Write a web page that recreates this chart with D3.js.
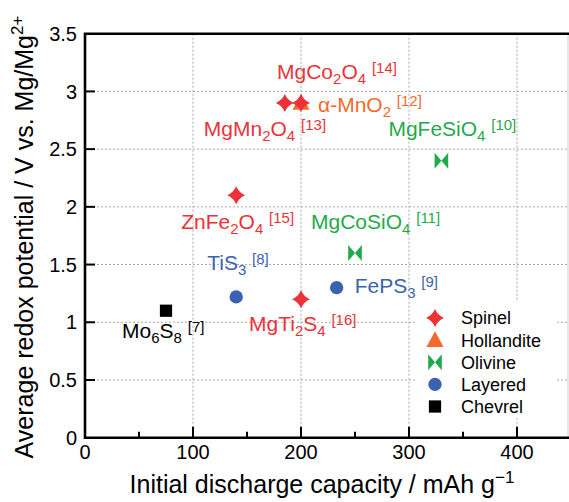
<!DOCTYPE html>
<html><head><meta charset="utf-8">
<script src="https://cdn.jsdelivr.net/npm/d3@7"></script>
<style>body{margin:0;background:#fff}svg{display:block;font-family:"Liberation Sans",Arial,sans-serif}</style>
</head><body><svg id="c" width="569" height="502"></svg>
<script>
// ---- data ----
const materials = ["MgMn2O4","MgCo2O4","α-MnO2","MgFeSiO4","ZnFe2O4","MgCoSiO4","TiS3","FePS3","MgTi2S4","Mo6S8"];
const capacity  = [185, 200, 200, 330, 140, 250, 140, 233, 200, 75];
const potential = [2.9, 2.9, 2.9, 2.4, 2.1, 1.6, 1.22, 1.3, 1.2, 1.1];
const structure = ["Spinel","Spinel","Hollandite","Olivine","Spinel","Olivine","Layered","Layered","Spinel","Chevrel"];
const refs      = [13, 14, 12, 10, 15, 11, 8, 9, 16, 7];
const structures = ["Spinel","Hollandite","Olivine","Layered","Chevrel"];
const xTicks = [0,100,200,300,400];
const yTicks = [0,0.5,1,1.5,2,2.5,3,3.5];
const xTitle = "Initial discharge capacity / mAh g";
const yTitle = "Average redox potential / V vs. Mg/Mg";

// ---- layout / style (not data) ----
const colors = {Spinel:"#ec3237", Hollandite:"#f26b2d", Olivine:"#1faa4b", Layered:"#3b62b0", Chevrel:"#000000"};
const labelOffset = [[-81,33],[-24,-24],[17,9],[-53,-25],[-55,34],[-44,-24],[-29,-27],[18,5],[-52,32],[-44,27]];

const W = 569, H = 502;
const x = d3.scaleLinear().domain([0,450]).range([85,571]);
const y = d3.scaleLinear().domain([0,3.5]).range([437.7,33.7]);
const svg = d3.select("#c");

// custom symbols
const star4 = {draw(ctx,size){const r=Math.sqrt(size), k=r*0.3;
  ctx.moveTo(0,-r);ctx.quadraticCurveTo(k,-k,r,0);ctx.quadraticCurveTo(k,k,0,r);
  ctx.quadraticCurveTo(-k,k,-r,0);ctx.quadraticCurveTo(-k,-k,0,-r);ctx.closePath();}};
const bowtie = {draw(ctx,size){const r=Math.sqrt(size), w=r*0.85;
  ctx.moveTo(-w,-r);ctx.lineTo(0,0);ctx.lineTo(-w,r);ctx.closePath();
  ctx.moveTo(w,-r);ctx.lineTo(0,0);ctx.lineTo(w,r);ctx.closePath();}};
const tri = {draw(ctx,size){const r=Math.sqrt(size);
  ctx.moveTo(0,-r);ctx.lineTo(r*0.95,r*0.75);ctx.lineTo(-r*0.95,r*0.75);ctx.closePath();}};
const symType = {Spinel:[star4,81], Hollandite:[tri,81], Olivine:[bowtie,64], Layered:[d3.symbolCircle,140], Chevrel:[d3.symbolSquare,150]};
const sym = s => d3.symbol().type(symType[s][0]).size(symType[s][1])();

// gridlines
const grid = svg.append("g").attr("stroke","#a9a9a9").attr("stroke-width",1).attr("stroke-dasharray","2,2");
xTicks.filter(d=>d>0).forEach(d=>grid.append("line").attr("x1",x(d)).attr("x2",x(d)).attr("y1",y(3.5)).attr("y2",y(0)));
yTicks.filter(d=>d>0&&d<3.5).forEach(d=>grid.append("line").attr("x1",x(0)).attr("x2",W).attr("y1",y(d)).attr("y2",y(d)));

// right edge line
svg.append("line").attr("x1",568).attr("x2",568).attr("y1",y(3.5)).attr("y2",y(0)).attr("stroke","#d0d0d0").attr("stroke-width",1);

// axes
const gx = svg.append("g").attr("transform",`translate(0,${y(0)})`).call(d3.axisBottom(x).tickValues(d3.range(0,451,50)).tickSize(0).tickFormat(""));
gx.select(".domain").remove();
const gy = svg.append("g").attr("transform",`translate(${x(0)},0)`).call(d3.axisLeft(y).tickValues(yTicks).tickSize(0).tickFormat(""));
gy.select(".domain").remove();
// inward ticks
d3.range(50,451,50).forEach(d=>svg.append("line").attr("x1",x(d)).attr("x2",x(d)).attr("y1",y(0)).attr("y2",y(0)-(d%100===0?11:6)).attr("stroke","#000").attr("stroke-width",2));
yTicks.filter(d=>d>0&&d<3.5).forEach(d=>svg.append("line").attr("x1",x(0)).attr("x2",x(0)+10).attr("y1",y(d)).attr("y2",y(d)).attr("stroke","#000").attr("stroke-width",2));
// frame
svg.append("path").attr("d",`M${W},${y(3.5)}H${x(0)}V${y(0)}H${W}`).attr("fill","none").attr("stroke","#000").attr("stroke-width",2.6);

// tick labels
svg.append("g").selectAll("text").data(xTicks).join("text")
  .attr("x",d=>x(d)).attr("y",y(0)+21).attr("text-anchor","middle").attr("font-size",20).text(d=>d);
svg.append("g").selectAll("text").data(yTicks).join("text")
  .attr("x",x(0)-8).attr("y",d=>y(d)).attr("dy","0.36em").attr("text-anchor","end").attr("font-size",20).text(d=>d);

// titles
const xt = svg.append("text").attr("x",322).attr("y",493).attr("text-anchor","middle").attr("font-size",25);
xt.append("tspan").text(xTitle);
xt.append("tspan").attr("font-size",17).attr("dy",-10).text("−1");
const yt = svg.append("text").attr("transform","translate(33,237) rotate(-90)").attr("text-anchor","middle").attr("font-size",25);
yt.append("tspan").text(yTitle);
yt.append("tspan").attr("font-size",17).attr("dy",-10).text("2+");

// points (hollandite first so stars lie on top)
const order = d3.range(materials.length).sort((a,b)=>(structure[a]==="Hollandite"?0:1)-(structure[b]==="Hollandite"?0:1));
svg.append("g").selectAll("path").data(order).join("path")
  .attr("transform",i=>`translate(${x(capacity[i])},${y(potential[i])})`)
  .attr("d",i=>sym(structure[i])).attr("fill",i=>colors[structure[i]]);

// labels
function formulaParts(s){return s.match(/\d+|[^\d]+/g).map(t=>({t,sub:/^\d+$/.test(t)}));}
materials.forEach((m,i)=>{
  const t = svg.append("text").attr("x",x(capacity[i])+labelOffset[i][0]).attr("y",y(potential[i])+labelOffset[i][1])
    .attr("font-size",21).attr("fill",colors[structure[i]]);
  let cur=0;
  formulaParts(m).forEach(p=>{const tgt=p.sub?5:0; t.append("tspan").attr("dy",tgt-cur).attr("font-size",p.sub?15:21).text(p.t); cur=tgt;});
  t.append("tspan").attr("dy",0-cur).text("\u00a0"); cur=0;
  t.append("tspan").attr("dy",-6).attr("font-size",15).text(`[${refs[i]}]`);
});

// legend
const lg = svg.append("g");
lg.append("rect").attr("x",417).attr("y",302).attr("width",140).attr("height",116).attr("fill","#fff");
const rowY = d3.scalePoint().domain(structures).range([318,406.5]);
structures.forEach(s=>{
  lg.append("path").attr("transform",`translate(435,${rowY(s)})`).attr("d",sym(s)).attr("fill",colors[s]);
  lg.append("text").attr("x",461).attr("y",rowY(s)).attr("dy","0.36em").attr("font-size",18).text(s);
});
</script></body></html>
